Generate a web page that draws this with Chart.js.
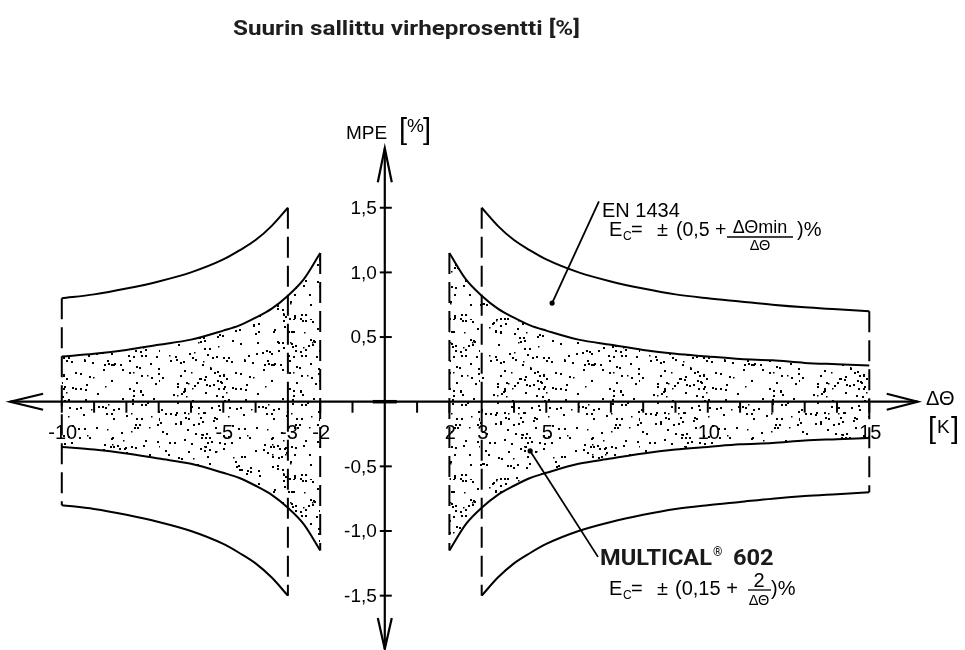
<!DOCTYPE html>
<html><head><meta charset="utf-8">
<script src="https://cdn.jsdelivr.net/npm/chart.js@4"></script>
<style>html,body{margin:0;padding:0;background:#fff;overflow:hidden}#wrap{width:965px;height:650px}</style>
</head><body><div id="wrap"><canvas id="c" width="965" height="650"></canvas></div>
<script>
// ---- data (ΔΘ in K, MPE in %) ----
const enRightX   = [3, 3.5, 4, 4.5, 5, 6, 7, 8, 9, 10, 11, 12, 13, 14, 15];
const enRightUp  = [1.50, 1.36, 1.25, 1.17, 1.10, 1.00, 0.93, 0.875, 0.83, 0.80, 0.775, 0.75, 0.73, 0.715, 0.70];
const enRightLow = [-1.50, -1.36, -1.25, -1.17, -1.10, -1.00, -0.93, -0.875, -0.83, -0.80, -0.775, -0.75, -0.73, -0.715, -0.70];
const enLeftX    = [-10, -9, -8, -7, -6, -5, -4.5, -4, -3.5, -3];
const enLeftUp   = [0.80, 0.83, 0.875, 0.93, 1.00, 1.10, 1.17, 1.25, 1.36, 1.50];
const enLeftLow  = [-0.80, -0.83, -0.875, -0.93, -1.00, -1.10, -1.17, -1.25, -1.36, -1.50];
const mcRightX   = [2, 2.5, 3, 3.5, 4, 4.5, 5, 6, 7, 8, 9, 10, 11, 12, 13, 14, 15];
const mcRightUp  = [1.15, 0.95, 0.82, 0.72, 0.65, 0.59, 0.55, 0.48, 0.44, 0.40, 0.37, 0.35, 0.33, 0.32, 0.30, 0.29, 0.28];
const mcRightLow = [-1.15, -0.95, -0.82, -0.72, -0.65, -0.59, -0.55, -0.48, -0.44, -0.40, -0.37, -0.35, -0.33, -0.32, -0.30, -0.29, -0.28];
const mcLeftX    = [-10, -9, -8, -7, -6, -5, -4.5, -4, -3.5, -3, -2.5, -2];
const mcLeftUp   = [0.35, 0.37, 0.40, 0.44, 0.48, 0.55, 0.59, 0.65, 0.72, 0.82, 0.95, 1.15];
const mcLeftLow  = [-0.35, -0.37, -0.40, -0.44, -0.48, -0.55, -0.59, -0.65, -0.72, -0.82, -0.95, -1.15];

const xTickValues  = [-10, -9, -8, -7, -6, -5, -4, -3, -2, -1, 1, 2, 3, 4, 5, 6, 7, 8, 9, 10, 11, 12, 13, 14, 15];
const xLabelValues = [-10, -5, -3, -2, 2, 3, 5, 10, 15];
const xTickLabels  = ['-10', '-5', '-3', '-2', '2', '3', '5', '10', '15'];
const yTickValues  = [1.5, 1.0, 0.5, -0.5, -1.0, -1.5];
const yTickLabels  = ['1,5', '1,0', '0,5', '-0,5', '-1,0', '-1,5'];

const titleText = 'Suurin sallittu virheprosentti [%]';

// ---- stipple texture (style only, deterministic) ----
function makeStipple() {
  const c = document.createElement('canvas'); c.width = 160; c.height = 160;
  const g = c.getContext('2d'); g.fillStyle = '#000';
  let a = 0x9e3779b9;
  const rnd = () => {
    a |= 0; a = a + 0x6D2B79F5 | 0;
    let t = Math.imul(a ^ a >>> 15, 1 | a);
    t = t + Math.imul(t ^ t >>> 7, 61 | t) ^ t;
    return ((t ^ t >>> 14) >>> 0) / 4294967296;
  };
  for (let i = 0; i < 330; i++) {
    const x = Math.floor(rnd() * 160), y = Math.floor(rnd() * 160);
    const k = rnd();
    if (k < 0.65) g.fillRect(x, y, 2, 2);
    else if (k < 0.85) { g.fillRect(x, y, 2, 2); g.fillRect(x + 3 + Math.floor(rnd() * 3), y + Math.floor(rnd() * 3) - 1, 2, 2); }
    else g.fillRect(x, y, 1.5, 1.5);
  }
  return g.createPattern(c, 'repeat');
}
const stipple = makeStipple();

const pts = (xs, ys) => xs.map((x, i) => ({x: x, y: ys[i]}));
const curve = (xs, ys, fill) => ({
  data: pts(xs, ys), borderColor: '#000', borderWidth: 2, pointRadius: 0,
  cubicInterpolationMode: 'monotone', fill: fill ? '+1' : false,
  backgroundColor: fill ? stipple : 'transparent'
});

// vertical dashed boundaries derived from curve end points
const bounds = {};
[[mcRightX, mcRightUp], [mcLeftX, mcLeftUp], [enRightX, enRightUp], [enLeftX, enLeftUp]].forEach(([xs, ys]) => {
  [0, xs.length - 1].forEach(i => {
    const k = xs[i];
    bounds[k] = Math.max(bounds[k] || 0, Math.abs(ys[i]));
  });
});
const dashSets = Object.keys(bounds).map(k => ({
  data: [{x: +k, y: bounds[k]}, {x: +k, y: -bounds[k]}],
  borderColor: '#000', borderWidth: 2, pointRadius: 0, borderDash: [21, 8], fill: false
}));

const datasets = [
  curve(mcRightX, mcRightUp, true), curve(mcRightX, mcRightLow, false),
  curve(mcLeftX, mcLeftUp, true), curve(mcLeftX, mcLeftLow, false),
  curve(enRightX, enRightUp, false), curve(enRightX, enRightLow, false),
  curve(enLeftX, enLeftUp, false), curve(enLeftX, enLeftLow, false),
  ...dashSets
];

const SANS = '"Liberation Sans", Arial, sans-serif';
const BOLD = 'Roboto, "Liberation Sans", sans-serif';

function fitText(ctx, text, x, y, font, width) {
  ctx.font = font;
  const w = ctx.measureText(text).width;
  const s = width / w;
  ctx.save(); ctx.translate(x, y); ctx.scale(s, 1);
  ctx.textAlign = 'left'; ctx.fillText(text, 0, 0); ctx.restore();
  return s;
}
function scaledText(ctx, text, x, y, font, s) {
  ctx.font = font;
  ctx.save(); ctx.translate(x, y); ctx.scale(s, 1);
  ctx.textAlign = 'left'; ctx.fillText(text, 0, 0); ctx.restore();
}

const decor = {
  id: 'decor',
  afterDatasetsDraw(chart) {
    const ctx = chart.ctx, xs = chart.scales.x, ys = chart.scales.y;
    const X = v => xs.getPixelForValue(v), Y = v => ys.getPixelForValue(v);
    const x0 = X(0), y0 = Y(0);
    ctx.save();
    ctx.strokeStyle = '#000'; ctx.fillStyle = '#000'; ctx.lineCap = 'butt';
    // x axis
    ctx.lineWidth = 2.2;
    const xl = X(-11.6), xr = X(16.5);
    ctx.beginPath(); ctx.moveTo(xl, y0); ctx.lineTo(xr, y0); ctx.stroke();
    ctx.beginPath();
    ctx.moveTo(xl + 33, y0 - 8); ctx.lineTo(xl, y0); ctx.lineTo(xl + 33, y0 + 8);
    ctx.moveTo(xr - 31, y0 - 8); ctx.lineTo(xr, y0); ctx.lineTo(xr - 31, y0 + 8);
    ctx.stroke();
    // y axis
    const yt = Y(1.96), yb = 649;
    ctx.beginPath(); ctx.moveTo(x0, yt); ctx.lineTo(x0, yb); ctx.stroke();
    ctx.beginPath();
    ctx.moveTo(x0 - 7, yt + 34); ctx.lineTo(x0, yt); ctx.lineTo(x0 + 7, yt + 34);
    ctx.moveTo(x0 - 7, yb - 31); ctx.lineTo(x0, yb); ctx.lineTo(x0 + 7, yb - 31);
    ctx.stroke();
    // origin mark
    ctx.lineWidth = 3.5;
    ctx.beginPath(); ctx.moveTo(x0 - 12, y0); ctx.lineTo(x0 + 12, y0); ctx.stroke();
    // x ticks
    ctx.lineWidth = 2;
    xTickValues.forEach(v => { ctx.beginPath(); ctx.moveTo(X(v), y0); ctx.lineTo(X(v), y0 + 11); ctx.stroke(); });
    // y ticks
    yTickValues.forEach(v => { ctx.beginPath(); ctx.moveTo(x0 - 5, Y(v)); ctx.lineTo(x0 + 7, Y(v)); ctx.stroke(); });
    // tick labels
    ctx.font = '20px ' + SANS; ctx.textAlign = 'center'; ctx.textBaseline = 'middle';
    xLabelValues.forEach((v, i) => ctx.fillText(xTickLabels[i], X(v) + 1, y0 + 32));
    ctx.font = '19px ' + SANS; ctx.textAlign = 'right';
    yTickValues.forEach((v, i) => ctx.fillText(yTickLabels[i], x0 - 8, Y(v) + 1));
    ctx.textBaseline = 'alphabetic'; ctx.textAlign = 'left';
    // axis titles
    ctx.font = '19px ' + SANS; ctx.fillText('MPE', 346, 139);
    ctx.font = '29px ' + SANS; ctx.fillText('[', 399, 139); ctx.fillText(']', 423, 139);
    ctx.font = '19px ' + SANS; ctx.fillText('%', 407, 132);
    ctx.font = '20px ' + SANS; ctx.fillText('ΔΘ', 926, 405);
    ctx.font = '29px ' + SANS; ctx.fillText('[', 928, 438); ctx.fillText(']', 951, 438);
    ctx.font = '19px ' + SANS; ctx.fillText('K', 937, 433);
    // leader lines
    ctx.lineWidth = 1.8;
    ctx.beginPath(); ctx.moveTo(X(5.18), Y(0.763)); ctx.lineTo(X(6.63), Y(1.55)); ctx.stroke();
    ctx.beginPath(); ctx.arc(X(5.18), Y(0.763), 2.6, 0, Math.PI * 2); ctx.fill();
    ctx.beginPath(); ctx.moveTo(X(4.50), Y(-0.381)); ctx.lineTo(X(6.60), Y(-1.20)); ctx.stroke();
    ctx.beginPath(); ctx.arc(X(4.50), Y(-0.381), 2.6, 0, Math.PI * 2); ctx.fill();
    // EN 1434 annotation
    ctx.font = '20px ' + SANS; ctx.fillText('EN 1434', 602, 217);
    ctx.font = '20px ' + SANS; ctx.fillText('E', 609, 236);
    ctx.font = '12px ' + SANS; ctx.fillText('C', 623, 240);
    ctx.font = '20px ' + SANS; ctx.fillText('=', 631, 236);
    ctx.fillText('±', 657, 236);
    ctx.font = '19.5px ' + SANS; ctx.fillText('(0,5 +', 676, 236);
    ctx.textAlign = 'center';
    ctx.font = '18px ' + SANS; ctx.fillText('ΔΘmin', 760, 233);
    ctx.font = '14.5px ' + SANS; ctx.fillText('ΔΘ', 760, 250);
    ctx.lineWidth = 1.3; ctx.beginPath(); ctx.moveTo(727, 237); ctx.lineTo(793, 237); ctx.stroke();
    ctx.textAlign = 'left'; ctx.font = '20px ' + SANS; ctx.fillText(')%', 797, 236);
    // MULTICAL annotation
    ctx.fillStyle = '#1a1a1a';
    const sm = fitText(ctx, 'MULTICAL', 600, 565, 'bold 22px ' + BOLD, 112);
    ctx.font = 'bold 12px ' + BOLD; ctx.fillText('®', 713, 556);
    scaledText(ctx, '602', 733, 565, 'bold 22px ' + BOLD, sm);
    ctx.fillStyle = '#000';
    ctx.font = '20px ' + SANS; ctx.fillText('E', 609, 595);
    ctx.font = '12px ' + SANS; ctx.fillText('C', 623, 599);
    ctx.font = '20px ' + SANS; ctx.fillText('=', 631, 595);
    ctx.fillText('±', 657, 595); ctx.fillText('(0,15 +', 675, 595);
    ctx.textAlign = 'center';
    ctx.font = '20px ' + SANS; ctx.fillText('2', 759, 587);
    ctx.font = '14.5px ' + SANS; ctx.fillText('ΔΘ', 759, 605);
    ctx.lineWidth = 1.3; ctx.beginPath(); ctx.moveTo(748, 590); ctx.lineTo(771, 590); ctx.stroke();
    ctx.textAlign = 'left'; ctx.font = '20px ' + SANS; ctx.fillText(')%', 771, 595);
    // title
    ctx.fillStyle = '#1e1e1e';
    fitText(ctx, titleText, 233, 35, 'bold 21px ' + BOLD, 347);
    ctx.restore();
  }
};

new Chart(document.getElementById('c'), {
  type: 'line',
  data: { datasets: datasets },
  options: {
    responsive: false, animation: false, devicePixelRatio: 1,
    layout: { padding: 0, autoPadding: false },
    plugins: { legend: { display: false }, tooltip: { enabled: false }, title: { display: false } },
    elements: { point: { radius: 0 } },
    scales: {
      x: { type: 'linear', min: -11.913, max: 17.963, display: false },
      y: { type: 'linear', min: -1.9203, max: 3.1067, display: false }
    }
  },
  plugins: [decor]
});
</script></body></html>
